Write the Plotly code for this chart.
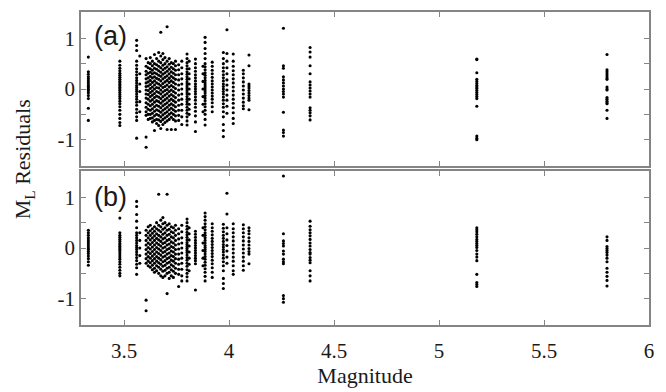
import plotly.graph_objects as go
from plotly.subplots import make_subplots

# ---- panel (a) data: magnitude strips and their residuals ----
a_mags = [3.33, 3.48, 3.56, 3.575, 3.605, 3.615, 3.625, 3.635, 3.645, 3.655,
          3.665, 3.675, 3.685, 3.695, 3.705, 3.715, 3.725, 3.735, 3.745, 3.76,
          3.775, 3.80, 3.81, 3.84, 3.876, 3.886, 3.92, 3.973, 3.99, 4.02,
          4.068, 4.095, 4.259, 4.386, 5.18, 5.80]
a_res = [
    [0.63, 0.34, 0.29, 0.24, 0.2, 0.16, 0.12, 0.08, 0.05, 0.02, -0.01, -0.04, -0.08, -0.13, -0.19, -0.38, -0.62],
    [0.55, 0.47, 0.41, 0.36, 0.31, 0.27, 0.23, 0.19, 0.15, 0.12, 0.09, 0.06, 0.03, 0.0, -0.03, -0.07, -0.11, -0.15, -0.19, -0.24, -0.29, -0.35, -0.42, -0.5, -0.58, -0.66, -0.72],
    [0.96, 0.86, 0.76, 0.55, 0.47, 0.4, 0.34, 0.28, 0.22, 0.17, 0.12, 0.07, 0.03, -0.01, -0.05, -0.1, -0.15, -0.2, -0.26, -0.32, -0.4, -0.47, -0.55, -0.62, -0.97],
    [0.65, 0.3, 0.1, -0.05, -0.25, -0.45],
    [0.6, 0.45, 0.35, 0.28, 0.2, 0.12, 0.05, -0.02, -0.1, -0.18, -0.27, -0.36, -0.45, -0.52, -0.95, -1.15],
    [0.52, 0.42, 0.31, 0.22, 0.14, 0.06, -0.03, -0.11, -0.2, -0.3, -0.4, -0.5, -0.6],
    [0.62, 0.5, 0.4, 0.33, 0.25, 0.17, 0.09, 0.01, -0.07, -0.15, -0.24, -0.33, -0.42, -0.5, -0.58],
    [0.55, 0.46, 0.37, 0.3, 0.22, 0.13, 0.04, -0.04, -0.12, -0.21, -0.3, -0.39, -0.48, -0.57, -0.65],
    [0.68, 0.5, 0.41, 0.32, 0.24, 0.16, 0.08, 0.0, -0.09, -0.17, -0.26, -0.35, -0.44, -0.53, -0.62, -0.82],
    [0.6, 0.48, 0.39, 0.3, 0.21, 0.12, 0.03, -0.05, -0.14, -0.23, -0.32, -0.41, -0.5, -0.6, -0.68],
    [0.72, 0.55, 0.45, 0.36, 0.27, 0.19, 0.1, 0.02, -0.07, -0.16, -0.25, -0.34, -0.43, -0.52, -0.61, -0.72],
    [1.12, 0.65, 0.52, 0.42, 0.33, 0.25, 0.16, 0.07, -0.02, -0.1, -0.19, -0.28, -0.37, -0.46, -0.55, -0.64, -0.78],
    [0.7, 0.58, 0.47, 0.38, 0.29, 0.2, 0.11, 0.03, -0.06, -0.15, -0.24, -0.33, -0.42, -0.51, -0.6, -0.7],
    [0.62, 0.5, 0.41, 0.32, 0.23, 0.14, 0.05, -0.03, -0.12, -0.21, -0.3, -0.39, -0.48, -0.57, -0.66],
    [1.23, 0.55, 0.44, 0.35, 0.26, 0.17, 0.08, -0.01, -0.09, -0.18, -0.27, -0.36, -0.45, -0.54, -0.63, -0.8],
    [0.6, 0.49, 0.39, 0.3, 0.21, 0.13, 0.04, -0.05, -0.14, -0.23, -0.32, -0.41, -0.5, -0.6],
    [0.52, 0.43, 0.34, 0.25, 0.16, 0.07, -0.02, -0.11, -0.2, -0.29, -0.38, -0.47, -0.56, -0.8],
    [0.5, 0.4, 0.31, 0.22, 0.13, 0.04, -0.05, -0.14, -0.23, -0.32, -0.41, -0.5, -0.6],
    [0.55, 0.46, 0.37, 0.28, 0.19, 0.1, 0.01, -0.08, -0.17, -0.26, -0.35, -0.44, -0.53, -0.63, -0.8],
    [0.48, 0.38, 0.28, 0.18, 0.08, -0.02, -0.12, -0.22, -0.32, -0.42, -0.52, -0.62],
    [0.55, 0.42, 0.3, 0.2, 0.1, 0.0, -0.1, -0.2, -0.3, -0.42, -0.55, -0.7],
    [0.69, 0.6, 0.52, 0.46, 0.4, 0.34, 0.29, 0.24, 0.19, 0.14, 0.1, 0.06, 0.02, -0.02, -0.06, -0.1, -0.15, -0.2, -0.25, -0.3, -0.36, -0.42, -0.48, -0.55, -0.63, -0.71],
    [0.55, 0.4, 0.3, 0.2, 0.1, 0.0, -0.1, -0.2, -0.3, -0.4, -0.5],
    [0.59, 0.5, 0.42, 0.35, 0.28, 0.22, 0.16, 0.1, 0.05, 0.0, -0.05, -0.1, -0.16, -0.22, -0.29, -0.36, -0.44, -0.53, -0.65, -0.84],
    [0.45, 0.3, 0.15, 0.0, -0.15, -0.3, -0.45],
    [1.02, 0.92, 0.8, 0.7, 0.6, 0.5, 0.44, 0.38, 0.32, 0.27, 0.22, 0.17, 0.12, 0.08, 0.04, 0.0, -0.04, -0.08, -0.13, -0.18, -0.23, -0.29, -0.35, -0.42, -0.5, -0.6, -0.71],
    [0.53, 0.45, 0.37, 0.3, 0.23, 0.16, 0.1, 0.04, -0.02, -0.08, -0.14, -0.2, -0.27, -0.35, -0.45],
    [0.72, 0.6, 0.5, 0.42, 0.35, 0.28, 0.22, 0.16, 0.1, 0.05, 0.0, -0.05, -0.1, -0.16, -0.22, -0.29, -0.36, -0.45, -0.55, -0.7, -0.82, -0.94],
    [1.17, 0.7, 0.55, 0.42, 0.3, 0.18, 0.08, -0.02, -0.12, -0.22, -0.34, -0.48],
    [0.69, 0.55, 0.45, 0.36, 0.28, 0.2, 0.12, 0.04, -0.04, -0.12, -0.2, -0.28, -0.37, -0.47, -0.58, -0.68],
    [0.37, 0.3, 0.22, 0.14, 0.06, -0.02, -0.1, -0.18, -0.26, -0.33, -0.39],
    [0.67, 0.46, 0.1, 0.06, 0.02, -0.03, -0.08, -0.13, -0.18, -0.22, -0.41],
    [1.2, 0.46, 0.41, 0.24, 0.18, 0.12, 0.06, 0.0, -0.05, -0.1, -0.16, -0.46, -0.81, -0.86, -0.93],
    [0.82, 0.73, 0.63, 0.46, 0.3, 0.14, 0.08, 0.02, -0.04, -0.1, -0.16, -0.37, -0.42, -0.47, -0.53, -0.61],
    [0.59, 0.58, 0.32, 0.19, 0.15, 0.11, 0.07, 0.04, 0.01, -0.03, -0.07, -0.11, -0.15, -0.19, -0.34, -0.93, -0.97, -1.0],
    [0.68, 0.38, 0.34, 0.3, 0.26, 0.22, 0.19, 0.04, 0.0, -0.02, -0.17, -0.2, -0.24, -0.27, -0.29, -0.42, -0.58],
]

# ---- panel (b) data ----
b_mags = [3.33, 3.48, 3.56, 3.575, 3.605, 3.615, 3.625, 3.635, 3.645, 3.655,
          3.665, 3.675, 3.685, 3.695, 3.705, 3.715, 3.725, 3.735, 3.745, 3.76,
          3.775, 3.80, 3.81, 3.84, 3.876, 3.886, 3.92, 3.973, 3.99, 4.02,
          4.068, 4.095, 4.259, 4.386, 5.18, 5.80]
b_res = [
    [0.35, 0.3, 0.25, 0.2, 0.16, 0.12, 0.08, 0.04, 0.0, -0.03, -0.07, -0.11, -0.16, -0.21, -0.27, -0.34],
    [0.59, 0.3, 0.25, 0.21, 0.17, 0.13, 0.09, 0.06, 0.03, 0.0, -0.03, -0.06, -0.1, -0.14, -0.18, -0.22, -0.27, -0.32, -0.38, -0.44, -0.5, -0.55],
    [0.92, 0.82, 0.66, 0.53, 0.4, 0.3, 0.25, 0.2, 0.15, 0.1, 0.05, 0.01, -0.03, -0.08, -0.13, -0.19, -0.25, -0.32, -0.39, -0.52],
    [0.3, 0.15, 0.0, -0.15, -0.3],
    [0.35, 0.25, 0.15, 0.06, -0.03, -0.12, -0.21, -0.3, -1.03, -1.24],
    [0.42, 0.3, 0.2, 0.1, 0.01, -0.08, -0.17, -0.26, -0.35],
    [0.45, 0.34, 0.25, 0.16, 0.07, -0.02, -0.11, -0.2, -0.29, -0.38],
    [0.38, 0.29, 0.2, 0.11, 0.02, -0.07, -0.16, -0.25, -0.34, -0.43],
    [0.42, 0.33, 0.24, 0.15, 0.06, -0.03, -0.12, -0.21, -0.3, -0.4, -0.48],
    [0.5, 0.38, 0.28, 0.19, 0.1, 0.01, -0.08, -0.17, -0.26, -0.35, -0.45],
    [1.06, 0.45, 0.35, 0.25, 0.16, 0.07, -0.02, -0.11, -0.2, -0.29, -0.38, -0.5],
    [0.55, 0.42, 0.32, 0.22, 0.13, 0.04, -0.05, -0.14, -0.23, -0.32, -0.42, -0.55],
    [0.6, 0.48, 0.37, 0.27, 0.18, 0.09, 0.0, -0.09, -0.18, -0.27, -0.36, -0.46, -0.58],
    [0.5, 0.4, 0.3, 0.2, 0.11, 0.02, -0.07, -0.16, -0.25, -0.34, -0.44, -0.55],
    [1.06, 0.45, 0.35, 0.25, 0.15, 0.06, -0.03, -0.12, -0.21, -0.3, -0.4, -0.5, -0.9],
    [0.48, 0.37, 0.27, 0.17, 0.08, -0.01, -0.1, -0.19, -0.28, -0.38, -0.48, -0.6],
    [0.42, 0.32, 0.22, 0.12, 0.03, -0.06, -0.15, -0.24, -0.33, -0.43, -0.55],
    [0.4, 0.3, 0.2, 0.1, 0.01, -0.08, -0.17, -0.26, -0.36, -0.46, -0.58],
    [0.45, 0.35, 0.25, 0.15, 0.06, -0.03, -0.12, -0.21, -0.3, -0.4, -0.5],
    [0.38, 0.28, 0.18, 0.08, -0.02, -0.12, -0.22, -0.32, -0.42, -0.52, -0.76],
    [0.45, 0.32, 0.2, 0.1, 0.0, -0.1, -0.2, -0.3, -0.42, -0.55, -0.65],
    [0.57, 0.5, 0.43, 0.37, 0.31, 0.26, 0.21, 0.16, 0.11, 0.07, 0.03, -0.01, -0.05, -0.09, -0.14, -0.19, -0.24, -0.3, -0.36, -0.43, -0.5, -0.57, -0.65],
    [0.4, 0.28, 0.16, 0.04, -0.08, -0.2, -0.32, -0.45],
    [0.33, 0.27, 0.21, 0.15, 0.1, 0.05, 0.0, -0.05, -0.1, -0.15, -0.2, -0.25, -0.31, -0.83],
    [0.4, 0.25, 0.1, -0.05, -0.2, -0.35],
    [0.69, 0.62, 0.55, 0.48, 0.42, 0.36, 0.3, 0.25, 0.2, 0.15, 0.1, 0.05, 0.01, -0.03, -0.07, -0.12, -0.17, -0.22, -0.28, -0.34, -0.41, -0.48, -0.56, -0.65],
    [0.48, 0.4, 0.33, 0.26, 0.19, 0.13, 0.07, 0.01, -0.05, -0.11, -0.17, -0.24, -0.31, -0.39, -0.48, -0.58],
    [0.47, 0.39, 0.32, 0.25, 0.19, 0.13, 0.07, 0.02, -0.03, -0.08, -0.14, -0.2, -0.27, -0.35, -0.45, -0.6, -0.7, -0.8],
    [1.08, 0.67, 0.4, 0.28, 0.16, 0.05, -0.06, -0.18, -0.3],
    [0.48, 0.38, 0.3, 0.22, 0.14, 0.06, -0.02, -0.1, -0.18, -0.26, -0.35, -0.45, -0.52],
    [0.46, 0.38, 0.3, 0.22, 0.14, 0.06, -0.02, -0.1, -0.18, -0.26, -0.35, -0.44],
    [0.4, 0.34, 0.28, 0.2, 0.13, 0.06, -0.01, -0.07, -0.12, -0.31],
    [1.42, 0.28, 0.14, 0.09, 0.04, -0.06, -0.12, -0.22, -0.27, -0.31, -0.94, -1.0, -1.07],
    [0.53, 0.43, 0.36, 0.3, 0.24, 0.17, 0.1, 0.04, -0.03, -0.09, -0.12, -0.19, -0.24, -0.29, -0.45, -0.55, -0.65],
    [0.4, 0.36, 0.32, 0.27, 0.22, 0.17, 0.13, 0.09, 0.05, 0.01, -0.05, -0.12, -0.18, -0.25, -0.52, -0.68, -0.72, -0.76],
    [0.22, 0.15, 0.03, -0.01, -0.05, -0.09, -0.14, -0.2, -0.27, -0.4, -0.48, -0.56, -0.64, -0.75],
]

x_tick_vals = [3.5, 4, 4.5, 5, 5.5, 6]
x_tick_text = ["3.5", "4", "4.5", "5", "5.5", "6"]
y_tick_vals = [-1, 0, 1]
y_tick_text = ["-1", "0", "1"]
y_minor_vals = [-0.5, 0.5]
panel_labels = ["(a)", "(b)"]


def flatten(mags, res):
    xs, ys = [], []
    for m, vals in zip(mags, res):
        for v in vals:
            xs.append(m)
            ys.append(v)
    return xs, ys


xa, ya = flatten(a_mags, a_res)
xb, yb = flatten(b_mags, b_res)

fig = make_subplots(rows=2, cols=1, shared_xaxes=True, vertical_spacing=0.016)
marker = dict(color="black", size=3.1, line=dict(width=0))
fig.add_trace(go.Scatter(x=xa, y=ya, mode="markers", marker=marker, showlegend=False), row=1, col=1)
fig.add_trace(go.Scatter(x=xb, y=yb, mode="markers", marker=marker, showlegend=False), row=2, col=1)

frame = "#858585"
serif = "Liberation Serif"
common = dict(showline=True, linecolor=frame, linewidth=1.6, mirror="ticks",
              ticks="inside", ticklen=5, tickwidth=1, tickcolor=frame,
              showgrid=False, zeroline=False,
              tickfont=dict(family=serif, size=21, color="#1a1a1a"))

for r in (1, 2):
    fig.update_xaxes(range=[3.295, 6.0], tickvals=x_tick_vals, ticktext=x_tick_text,
                     row=r, col=1, **common)
    fig.update_yaxes(range=[-1.52, 1.52], tickvals=y_tick_vals, ticktext=y_tick_text,
                     minor=dict(tickvals=y_minor_vals, ticks="inside", ticklen=5,
                                tickwidth=1, tickcolor=frame, showgrid=False),
                     row=r, col=1, **common)

fig.update_xaxes(showticklabels=False, row=1, col=1)
fig.update_xaxes(ticklabelstandoff=6,
                 title=dict(text="Magnitude", font=dict(family=serif, size=22, color="#1a1a1a"),
                            standoff=4), row=2, col=1)

fig.add_annotation(text="M<sub>L</sub> Residuals", textangle=-90,
                   xref="paper", yref="paper", x=-0.1, y=0.53, xanchor="center", yanchor="middle",
                   showarrow=False, font=dict(family=serif, size=22, color="#1a1a1a"))

for i, lab in enumerate(panel_labels):
    axn = "" if i == 0 else "2"
    fig.add_annotation(text=lab, xref=f"x{axn} domain", yref=f"y{axn} domain",
                       x=0.052, y=0.845 if i == 0 else 0.83, xanchor="center", yanchor="middle",
                       showarrow=False, font=dict(family="Liberation Sans", size=27, color="#1a1a1a"))

fig.update_layout(width=666, height=392, margin=dict(l=81, r=17, t=10, b=67),
                  plot_bgcolor="white", paper_bgcolor="white")

fig.write_html("out.html")
